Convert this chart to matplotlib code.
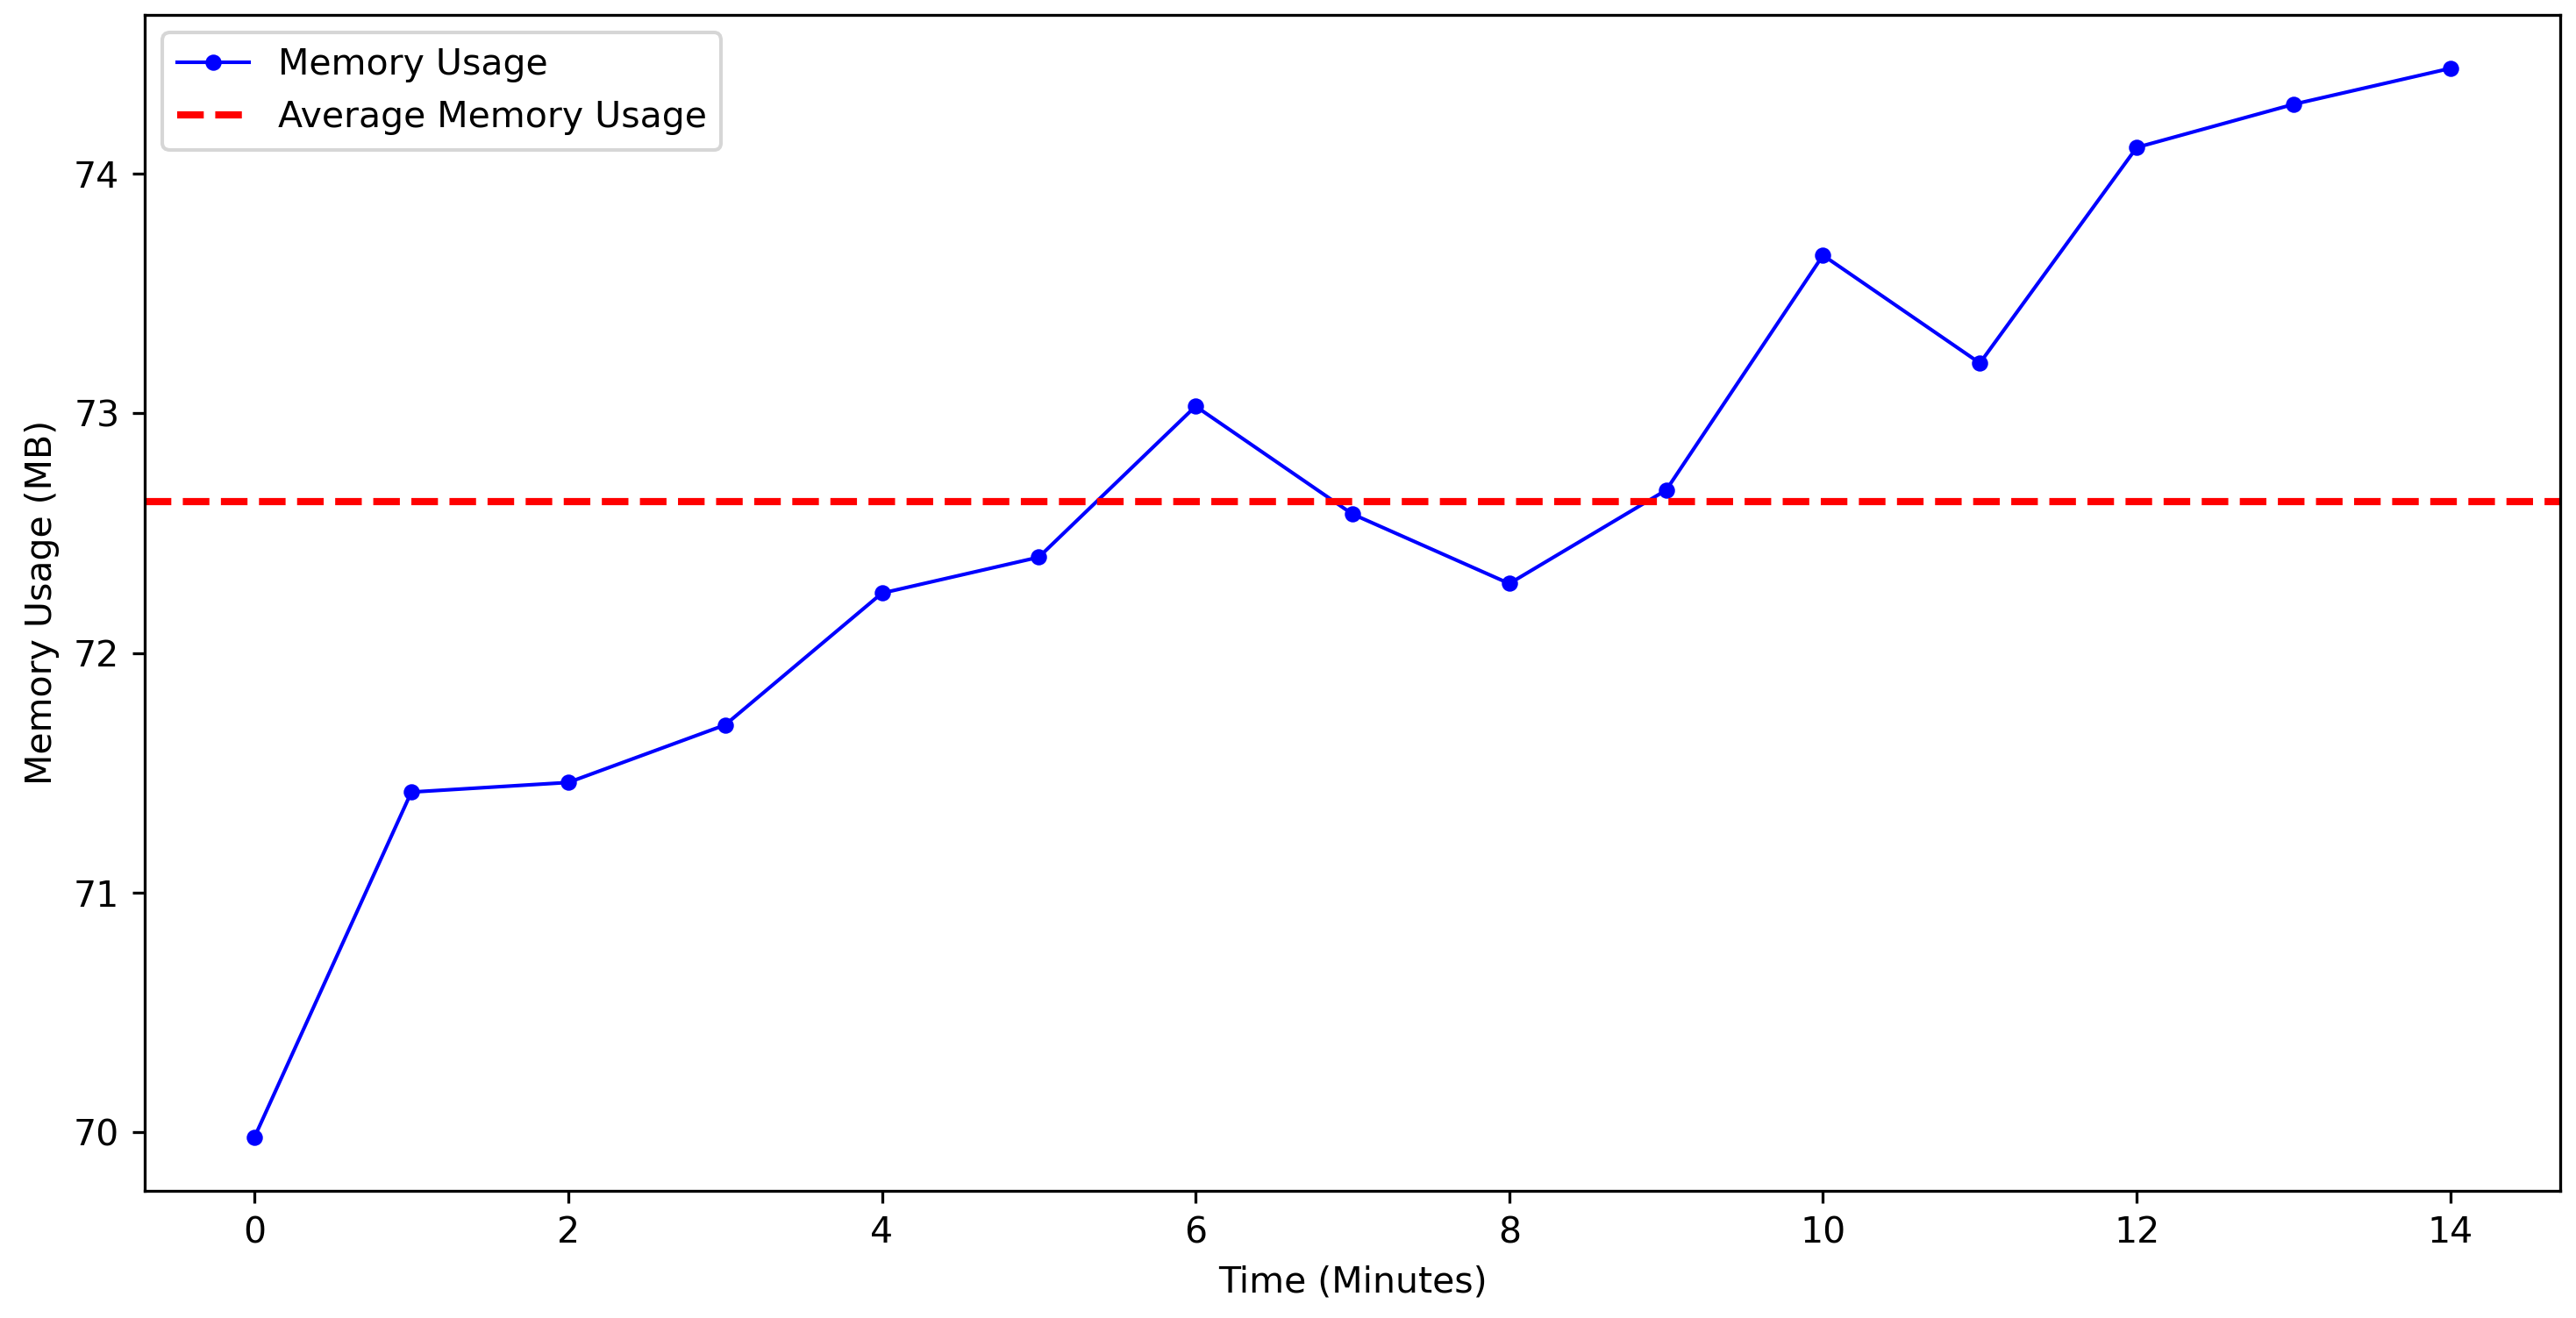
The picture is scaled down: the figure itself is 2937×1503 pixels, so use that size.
import matplotlib
matplotlib.use("Agg")
import matplotlib.pyplot as plt
import numpy as np

time_minutes = list(range(15))
memory_usage = [69.98, 71.42, 71.46, 71.70, 72.25, 72.40, 73.03, 72.58,
                72.29, 72.68, 73.66, 73.21, 74.11, 74.29, 74.44]
series_label = "Memory Usage"
avg_label = "Average Memory Usage"
x_label = "Time (Minutes)"
y_label = "Memory Usage (MB)"

DPI = 295
fig = plt.figure(figsize=(2937 / DPI, 1503 / DPI), dpi=DPI)
ax = fig.add_axes([165 / 2937, 1 - 1357.7 / 1503, (2919 - 165) / 2937, (1357.7 - 17) / 1503])

ax.plot(time_minutes, memory_usage, color="blue", marker="o", markersize=3.5,
        linewidth=1, label=series_label)
avg = float(np.mean(memory_usage))
ax.axhline(avg, color="red", linestyle="--", linewidth=2, label=avg_label)

ax.set_xlabel(x_label)
ax.set_ylabel(y_label)
ax.set_xticks([0, 2, 4, 6, 8, 10, 12, 14])
ax.set_yticks([70, 71, 72, 73, 74])
ax.legend(loc="upper left")

fig.savefig("out.png", dpi=DPI)
